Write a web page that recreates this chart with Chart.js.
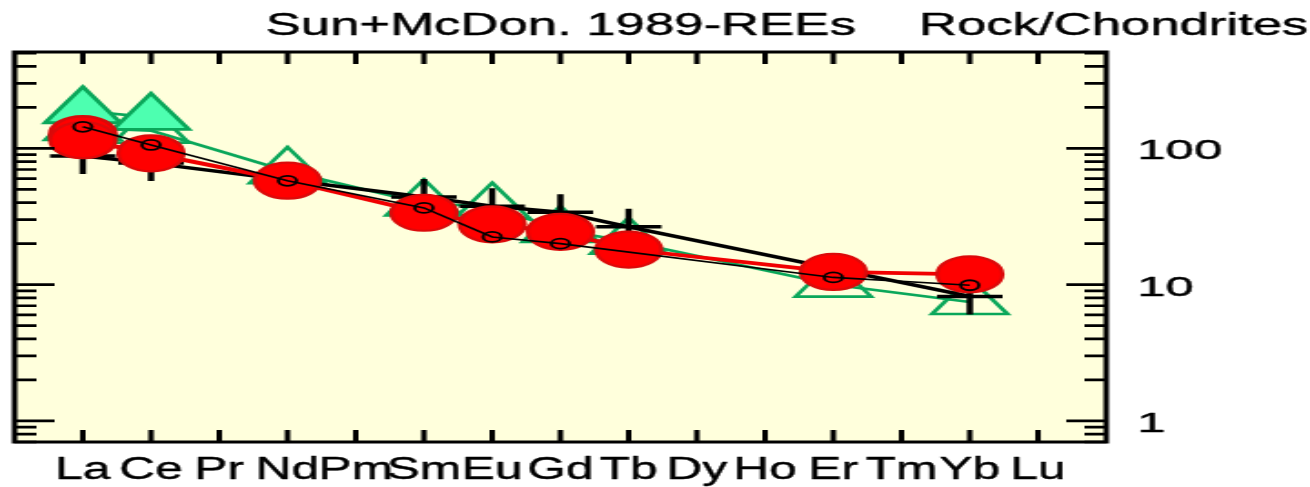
<!DOCTYPE html>
<html><head><meta charset="utf-8">
<script src="https://cdn.jsdelivr.net/npm/chart.js@4.4.1/dist/chart.umd.min.js"></script>
<style>
html,body{margin:0;padding:0;background:#fff;overflow:hidden;}
#wrap{position:absolute;left:0;top:0;width:720px;height:487px;transform-origin:0 0;transform:scaleX(1.819444);}
</style></head><body>
<div id="wrap"><canvas id="c" width="720" height="487"></canvas></div>
<script>
// REE spider diagram, chondrite normalised (Sun & McDonough 1989)
const elements = ['La','Ce','Pr','Nd','Pm','Sm','Eu','Gd','Tb','Dy','Ho','Er','Tm','Yb','Lu'];
const yTickValues = [1, 10, 100];
const yTickLabels = ['1', '10', '100'];
const titleLeft = 'Sun+McDon. 1989-REEs';
const titleRight = 'Rock/Chondrites';

// Rock/chondrite ratios per sample (null = not determined)
const sampleCircle   = [144, 106, null, 57.8, null, 36.6, 22.4, 20.0, null, null, null, 11.3, null, 9.9, null];
const sampleRed      = [115, 92, null, 58, null, 33.7, 27.7, 24.4, 18.1, null, null, 12.4, null, 11.9, null];
const sampleRedLa    = [127, null, null, null, null, null, null, null, null, null, null, null, null, null, null];
const sampleCross    = [88, 78, null, null, null, 44, 37.7, 34, 26.6, null, null, null, null, 8.2, null];
const sampleTriangle = [141, 135, null, 68, null, 39.5, 37.3, 25.2, 20.7, null, null, 10.0, null, 7.45, null];
const sampleFilled   = [189, 169, null, null, null, null, null, null, null, null, null, null, null, null, null];

const Y_MIN = 0.7, Y_MAX = 510;

function toPoints(arr) {
  const out = [];
  arr.forEach((v, i) => { if (v !== null) out.push({ x: i, y: v }); });
  return out;
}

const GREEN = '#0aa75a';
const FONT = '"Liberation Sans", Arial, sans-serif';

// text with a slightly condensed, slightly emboldened face
function label(ctx, str, x, y, size, hs, align) {
  ctx.save();
  ctx.translate(x, y);
  ctx.scale(hs, 1);
  ctx.font = size + 'px ' + FONT;
  ctx.textAlign = align;
  ctx.textBaseline = 'alphabetic';
  ctx.lineWidth = 0.45;
  ctx.lineJoin = 'round';
  ctx.fillText(str, 0, 0);
  ctx.strokeText(str, 0, 0);
  ctx.restore();
}

const frame = {
  id: 'frame',
  beforeDatasetsDraw(chart) {
    const { ctx, chartArea: a } = chart;
    ctx.save();
    ctx.fillStyle = '#ffffdc';
    ctx.fillRect(a.left, a.top, a.right - a.left, a.bottom - a.top);
    ctx.restore();
  },
  afterDatasetsDraw(chart) {
    const { ctx, chartArea: a } = chart;
    const xs = chart.scales.x, ys = chart.scales.y;
    ctx.save();
    ctx.strokeStyle = '#000';
    ctx.fillStyle = '#000';
    // category ticks, top and bottom, pointing inward
    ctx.lineWidth = 3;
    elements.forEach((el, i) => {
      const px = xs.getPixelForValue(i);
      ctx.beginPath();
      ctx.moveTo(px, a.top); ctx.lineTo(px, a.top + 12);
      ctx.moveTo(px, a.bottom); ctx.lineTo(px, a.bottom - 12);
      ctx.stroke();
    });
    // log ticks on both sides
    ctx.lineWidth = 2.6;
    for (let d = 0.1; d <= 1000; d *= 10) {
      for (let k = 1; k <= 9; k++) {
        const v = +(k * d).toPrecision(3);
        if (v < Y_MIN || v > Y_MAX) continue;
        const py = ys.getPixelForValue(v);
        const len = k === 1 ? 22 : 12;
        ctx.beginPath();
        ctx.moveTo(a.left, py); ctx.lineTo(a.left + len, py);
        ctx.moveTo(a.right, py); ctx.lineTo(a.right - len, py);
        ctx.stroke();
      }
    }
    // frame
    ctx.lineWidth = 3;
    ctx.strokeRect(a.left, a.top, a.right - a.left, a.bottom - a.top);
    // tick labels
    yTickValues.forEach((v, i) => {
      label(ctx, yTickLabels[i], a.right + 17, ys.getPixelForValue(v) + 11, 28, 1, 'left');
    });
    elements.forEach((el, i) => {
      label(ctx, el, xs.getPixelForValue(i), a.bottom + 37, 31, 0.88, 'center');
    });
    // title
    label(ctx, titleLeft, 146, 35, 32, 0.905, 'left');
    label(ctx, titleRight, 505, 35, 32, 0.905, 'left');
    ctx.restore();
  }
};

new Chart(document.getElementById('c'), {
  type: 'line',
  data: {
    datasets: [
      {
        label: 'circle', data: toPoints(sampleCircle), order: 0,
        borderColor: '#000', borderWidth: 1.6, pointStyle: 'circle',
        pointRadius: 5, pointBorderWidth: 1.8, pointBorderColor: '#000',
        pointBackgroundColor: 'rgba(0,0,0,0)'
      },
      {
        label: 'red', data: toPoints(sampleRed), order: 1,
        borderColor: '#f00000', borderWidth: 3.8, pointStyle: 'circle',
        pointRadius: 18, pointBorderWidth: 2.2, pointBorderColor: '#dc0a0a',
        pointBackgroundColor: '#ff0000'
      },
      {
        label: 'red La', data: toPoints(sampleRedLa), order: 2,
        borderColor: '#f00000', borderWidth: 3, pointStyle: 'circle',
        pointRadius: 18, pointBorderWidth: 2.6, pointBorderColor: '#d80a0a',
        pointBackgroundColor: '#ff0000'
      },
      {
        label: 'cross', data: toPoints(sampleCross), order: 3,
        borderColor: '#000', borderWidth: 3.5, pointStyle: 'cross',
        pointRadius: 18, pointBorderWidth: 3.5, pointBorderColor: '#000'
      },
      {
        label: 'filled', data: toPoints(sampleFilled), order: 4,
        borderColor: GREEN, borderWidth: 2.6, pointStyle: 'triangle',
        pointRadius: 24, pointBorderWidth: 2.8, pointBorderColor: GREEN,
        pointBackgroundColor: '#4dffb0'
      },
      {
        label: 'triangle', data: toPoints(sampleTriangle), order: 5,
        borderColor: GREEN, borderWidth: 2.6, pointStyle: 'triangle',
        pointRadius: 24, pointBorderWidth: 2.6, pointBorderColor: GREEN,
        pointBackgroundColor: 'rgba(0,0,0,0)'
      }
    ]
  },
  options: {
    responsive: false,
    devicePixelRatio: 1,
    animation: false,
    layout: { autoPadding: false, padding: { left: 8, right: 112, top: 52, bottom: 45 } },
    plugins: { legend: { display: false }, tooltip: { enabled: false }, title: { display: false } },
    elements: { line: { tension: 0 } },
    scales: {
      x: { type: 'linear', min: -1, max: 15, display: false },
      y: { type: 'logarithmic', min: Y_MIN, max: Y_MAX, display: false }
    }
  },
  plugins: [frame]
});
</script>
</body></html>
